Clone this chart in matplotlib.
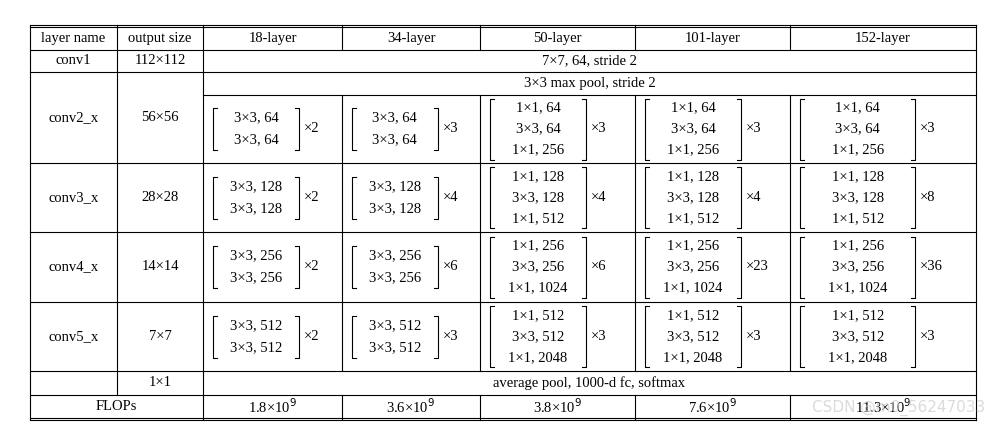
import matplotlib.pyplot as plt

# table content
col_heads = ['layer name', 'output size', '18-layer', '34-layer', '50-layer', '101-layer', '152-layer']
stage_names = ['conv2_x', 'conv3_x', 'conv4_x', 'conv5_x']
out_sizes = ['56×56', '28×28', '14×14', '7×7']
basic_blocks = [['3×3, 64', '3×3, 64'], ['3×3, 128', '3×3, 128'],
                ['3×3, 256', '3×3, 256'], ['3×3, 512', '3×3, 512']]
bottleneck_blocks = [['1×1, 64', '3×3, 64', '1×1, 256'], ['1×1, 128', '3×3, 128', '1×1, 512'],
                     ['1×1, 256', '3×3, 256', '1×1, 1024'], ['1×1, 512', '3×3, 512', '1×1, 2048']]
repeats = [[2, 2, 2, 2], [3, 4, 6, 3], [3, 4, 6, 3], [3, 4, 23, 3], [3, 8, 36, 3]]
flops = ['1.8×10$^9$', '3.6×10$^9$', '3.8×10$^9$', '7.6×10$^9$', '11.3×10$^9$']

# geometry (pixels)
xs = [30, 117, 203, 342, 480, 635, 790, 976]
ys = [27, 50, 72, 163, 232, 302, 371, 395, 418]
pool_y = 95

fig = plt.figure(figsize=(9.95, 4.26), dpi=100)
ax = fig.add_axes([0, 0, 1, 1])
ax.set_xlim(0, 995)
ax.set_ylim(426, 0)
ax.axis('off')
plt.rcParams['font.family'] = ['Liberation Serif', 'DejaVu Serif']
fs = 10.5
lw = 0.8

def hline(y, x0=xs[0], x1=xs[-1]):
    ax.plot([x0, x1], [y, y], color='black', lw=lw)

def vline(x, y0, y1):
    ax.plot([x, x], [y0, y1], color='black', lw=lw)

def txt(x, y, s, ha='center'):
    ax.text(x, y, s, ha=ha, va='center', fontsize=fs)

# rules
hline(ys[0] - 2)
for y in ys:
    hline(y)
hline(ys[-1] + 2)
hline(pool_y, xs[2], xs[-1])
# outer verticals and first two column separators run full height
for x in [xs[0], xs[2], xs[-1]]:
    vline(x, ys[0] - 2, ys[-1] + 2)
vline(xs[1], ys[0] - 2, ys[7])
# inner separators only where cells are split
for x in xs[3:-1]:
    vline(x, ys[0] - 2, ys[1])
    vline(x, pool_y, ys[6])
    vline(x, ys[7], ys[-1] + 2)

# header
for i, h in enumerate(col_heads):
    txt((xs[i] + xs[i + 1]) / 2, (ys[0] + ys[1]) / 2, h)
# conv1
txt((xs[0] + xs[1]) / 2, (ys[1] + ys[2]) / 2, 'conv1')
txt((xs[1] + xs[2]) / 2, (ys[1] + ys[2]) / 2, '112×112')
txt((xs[2] + xs[-1]) / 2, (ys[1] + ys[2]) / 2, '7×7, 64, stride 2')
txt((xs[2] + xs[-1]) / 2, (ys[2] + pool_y) / 2, '3×3 max pool, stride 2')

def bracket(x0, x1, y0, y1):
    t = 4
    ax.plot([x0 + t, x0, x0, x0 + t], [y0, y0, y1, y1], color='black', lw=lw)
    ax.plot([x1 - t, x1, x1, x1 - t], [y0, y0, y1, y1], color='black', lw=lw)

for s in range(4):
    top = pool_y if s == 0 else ys[s + 2]
    bot = ys[s + 3]
    cy = (top + bot) / 2
    txt((xs[0] + xs[1]) / 2, (ys[s + 2] + bot) / 2, stage_names[s])
    txt((xs[1] + xs[2]) / 2, (ys[s + 2] + bot) / 2, out_sizes[s])
    for c in range(5):
        lines = basic_blocks[s] if c < 2 else bottleneck_blocks[s]
        x0 = xs[c + 2] + 10
        w = xs[c + 3] - xs[c + 2]
        x1 = x0 + w * 0.62
        n = len(lines)
        step = 22 if n == 2 else 21
        for k, line in enumerate(lines):
            txt((x0 + x1) / 2, cy + (k - (n - 1) / 2) * step, line)
        h = n * step / 2 - 1
        bracket(x0, x1, cy - h, cy + h)
        txt(x1 + 5, cy, '×%d' % repeats[c][s], ha='left')

# avg pool and flops
txt((xs[1] + xs[2]) / 2, (ys[6] + ys[7]) / 2, '1×1')
txt((xs[2] + xs[-1]) / 2, (ys[6] + ys[7]) / 2, 'average pool, 1000-d fc, softmax')
txt((xs[0] + xs[2]) / 2, (ys[7] + ys[8]) / 2, 'FLOPs')
for c in range(5):
    txt((xs[c + 2] + xs[c + 3]) / 2, (ys[7] + ys[8]) / 2, flops[c])

ax.text(985, 408, 'CSDN @m0_56247033', ha='right', va='center', fontsize=11,
        color='#cccccc', family=['DejaVu Sans'], alpha=0.7)

fig.savefig('out.png', dpi=100)
